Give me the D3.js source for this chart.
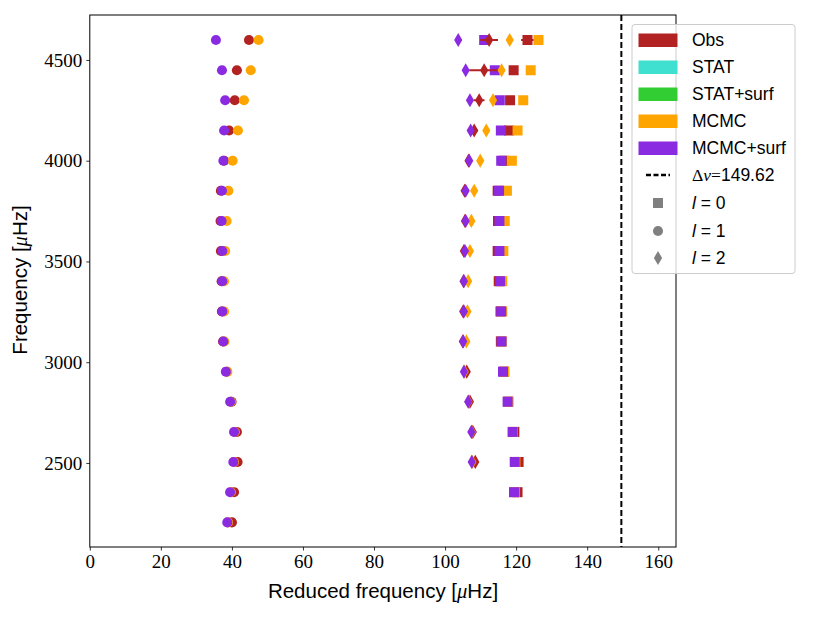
<!DOCTYPE html>
<html>
<head>
<meta charset="utf-8">
<script src="https://cdn.jsdelivr.net/npm/d3@7"></script>
<style>
  body { margin: 0; background: #fff; }
  svg { display: block; }
  .tick text { font-family: "Liberation Serif", serif; font-size: 19px; fill: #000; }
  .lab { font-family: "Liberation Sans", sans-serif; font-size: 20.5px; fill: #000; }
  .leg { font-family: "Liberation Sans", sans-serif; font-size: 17.5px; fill: #000; }
</style>
</head>
<body>
<div id="chart"></div>
<script>
// Row frequencies (muHz) of the echelle diagram
const rows = [2205, 2355, 2505, 2654, 2804, 2953, 3103, 3252, 3402, 3552, 3701, 3851, 4000, 4150, 4300, 4449, 4599];

// l = 0 (squares), reduced frequency per row
const obsL0  = [null, 120.4, 120.7, 119.5, 117.8, 116.6, 115.7, 115.6, 115.1, 114.8, 114.9, 114.8, 116.5, 118.0, 118.3, 119.3, 123.2];
const mcmcL0 = [null, 119.6, 119.8, 119.1, 117.7, 116.7, 116.0, 116.1, 116.1, 116.4, 116.8, 117.4, 118.8, 120.4, 122.0, 124.1, 126.3];
const surfL0 = [null, 119.4, 119.6, 119.0, 117.6, 116.3, 115.9, 115.8, 115.5, 115.3, 115.3, 115.2, 115.8, 115.7, 115.4, 114.0, 111.0];
const errL0  = [null, 0.3, 0.3, 0.3, 0.3, 0.3, 0.3, 0.3, 0.3, 0.3, 0.3, 0.4, 0.5, 0.6, 0.8, 1.0, 1.8];

// l = 1 (circles)
const obsL1  = [40.0, 40.6, 41.6, 41.4, 39.9, 38.6, 37.5, 37.2, 37.1, 36.9, 36.8, 36.9, 37.8, 39.2, 40.8, 41.4, 44.8];
const mcmcL1 = [38.9, 39.7, 40.6, 40.8, 39.7, 38.7, 37.9, 37.8, 37.8, 38.1, 38.5, 39.0, 40.2, 41.7, 43.4, 45.3, 47.5];
const surfL1 = [38.7, 39.5, 40.4, 40.6, 39.5, 38.3, 37.6, 37.3, 37.3, 37.3, 37.1, 37.2, 37.6, 37.8, 38.1, 37.2, 35.5];

// l = 2 (diamonds)
const obsL2  = [null, null, 108.5, 107.8, 107.0, 106.1, 105.0, 105.1, 105.2, 105.3, 105.6, 105.5, 106.6, 108.2, 109.6, 111.0, 112.4];
const mcmcL2 = [null, null, 107.7, 107.5, 106.6, 105.5, 106.0, 106.3, 106.5, 107.0, 107.4, 108.2, 109.9, 111.6, 113.5, 115.9, 118.2];
const surfL2 = [null, null, 107.5, 107.4, 106.5, 105.3, 105.1, 105.3, 105.3, 105.6, 105.8, 105.8, 106.8, 107.2, 107.0, 105.8, 103.7];
const errL2  = [null, null, 0.4, 0.4, 0.4, 0.4, 0.4, 0.4, 0.4, 0.4, 0.5, 0.5, 0.6, 1.0, 1.5, 4.2, 2.5];

const deltaNu = 149.62;
const xTicks = [0, 20, 40, 60, 80, 100, 120, 140, 160];
const yTicks = [2500, 3000, 3500, 4000, 4500];

const legendNames  = ['Obs', 'STAT', 'STAT+surf', 'MCMC', 'MCMC+surf'];
const legendColors = ['#b22222', '#40e0d0', '#32cd32', '#ffa500', '#8a2be2'];

const W = 822, H = 617;
const L = 89.8, R = 676, T = 15, B = 547;
const svg = d3.select('#chart').append('svg').attr('width', W).attr('height', H);

const x = d3.scaleLinear().domain([0, 165]).range([L, R]);
const y = d3.scaleLinear().domain([2083, 4723]).range([B, T]);

svg.append('clipPath').attr('id', 'clip').append('rect')
    .attr('x', L).attr('y', T).attr('width', R - L).attr('height', B - T);
const plot = svg.append('g').attr('clip-path', 'url(#clip)');

const shapes = {
    0: d3.symbol().type(d3.symbolSquare).size(100),
    1: d3.symbol().type(d3.symbolCircle).size(80),
    2: d3.symbol().type(d3.symbolDiamond).size(58)
};

function drawSeries(vals, l, color, errs) {
    const pts = rows.map((f, i) => ({f, v: vals[i], e: errs ? errs[i] : null}))
        .filter(d => d.v !== null);
    if (errs) {
        plot.append('g').selectAll('line').data(pts).enter().append('line')
            .attr('x1', d => x(d.v - d.e)).attr('x2', d => x(d.v + d.e))
            .attr('y1', d => y(d.f)).attr('y2', d => y(d.f))
            .attr('stroke', color).attr('stroke-width', 2);
    }
    plot.append('g').selectAll('path').data(pts).enter().append('path')
        .attr('transform', d => `translate(${x(d.v)},${y(d.f)})`)
        .attr('d', shapes[l]())
        .attr('fill', color);
}

// one pass per degree: obs, then the two MCMC fits
drawSeries(obsL0, 0, legendColors[0], errL0);
drawSeries(mcmcL0, 0, legendColors[3]);
drawSeries(surfL0, 0, legendColors[4]);
drawSeries(obsL1, 1, legendColors[0]);
drawSeries(mcmcL1, 1, legendColors[3]);
drawSeries(surfL1, 1, legendColors[4]);
drawSeries(obsL2, 2, legendColors[0], errL2);
drawSeries(mcmcL2, 2, legendColors[3]);
drawSeries(surfL2, 2, legendColors[4]);

// Delta nu line
plot.append('line')
    .attr('x1', x(deltaNu)).attr('x2', x(deltaNu))
    .attr('y1', T).attr('y2', B)
    .attr('stroke', '#000').attr('stroke-width', 2)
    .attr('stroke-dasharray', '6,3');

// Axes
const xAxis = svg.append('g').attr('transform', `translate(0,${B})`)
    .call(d3.axisBottom(x).tickValues(xTicks).tickSize(3.5).tickPadding(4).tickFormat(d3.format('d')));
const yAxis = svg.append('g').attr('transform', `translate(${L},0)`)
    .call(d3.axisLeft(y).tickValues(yTicks).tickSize(3.5).tickPadding(4).tickFormat(d3.format('d')));
[xAxis, yAxis].forEach(a => {
    a.select('.domain').remove();
    a.selectAll('.tick line').attr('stroke', '#000').attr('stroke-width', 0.8);
});

svg.append('rect').attr('x', L).attr('y', T).attr('width', R - L).attr('height', B - T)
    .attr('fill', 'none').attr('stroke', '#000').attr('stroke-width', 1);

// Axis labels
const xl = svg.append('text').attr('class', 'lab').attr('x', 383).attr('y', 598).attr('text-anchor', 'middle');
xl.append('tspan').text('Reduced frequency [');
xl.append('tspan').attr('font-family', 'Liberation Serif').attr('font-style', 'italic').text('μ');
xl.append('tspan').text('Hz]');

const yl = svg.append('text').attr('class', 'lab').attr('text-anchor', 'middle')
    .attr('transform', 'translate(27,280) rotate(-90)');
yl.append('tspan').text('Frequency [');
yl.append('tspan').attr('font-family', 'Liberation Serif').attr('font-style', 'italic').text('μ');
yl.append('tspan').text('Hz]');

// Legend
const lg = svg.append('g');
lg.append('rect').attr('x', 632).attr('y', 24.5).attr('width', 163).attr('height', 249)
    .attr('rx', 3).attr('fill', '#fff').attr('fill-opacity', 0.8)
    .attr('stroke', '#ccc').attr('stroke-width', 1);

const rowY = [40, 67, 94, 121, 148, 175, 203, 231, 258];
legendNames.forEach((n, i) => {
    lg.append('rect').attr('x', 638.5).attr('y', rowY[i] - 6.5).attr('width', 39).attr('height', 13.5)
        .attr('fill', legendColors[i]);
    lg.append('text').attr('class', 'leg').attr('x', 692).attr('y', rowY[i] + 6).text(n);
});

lg.append('line').attr('x1', 646).attr('x2', 670).attr('y1', rowY[5]).attr('y2', rowY[5])
    .attr('stroke', '#000').attr('stroke-width', 2.5).attr('stroke-dasharray', '5,2.5');
const dn = lg.append('text').attr('class', 'leg').attr('x', 692).attr('y', rowY[5] + 6);
dn.append('tspan').attr('font-family', 'Liberation Serif').text('Δ');
dn.append('tspan').attr('font-family', 'Liberation Serif').attr('font-style', 'italic').text('ν');
dn.append('tspan').attr('font-family', 'Liberation Serif').text('=');
dn.append('tspan').text(deltaNu.toFixed(2));

[0, 1, 2].forEach(l => {
    const yy = rowY[6 + l];
    lg.append('path').attr('transform', `translate(658,${yy})`).attr('d', shapes[l]()).attr('fill', '#808080');
    const t = lg.append('text').attr('class', 'leg').attr('x', 692).attr('y', yy + 6)
        .attr('font-family', 'Liberation Serif').attr('font-size', '19px');
    t.append('tspan').attr('font-style', 'italic').text('l');
    t.append('tspan').text(' = ' + l);
});
</script>
</body>
</html>
